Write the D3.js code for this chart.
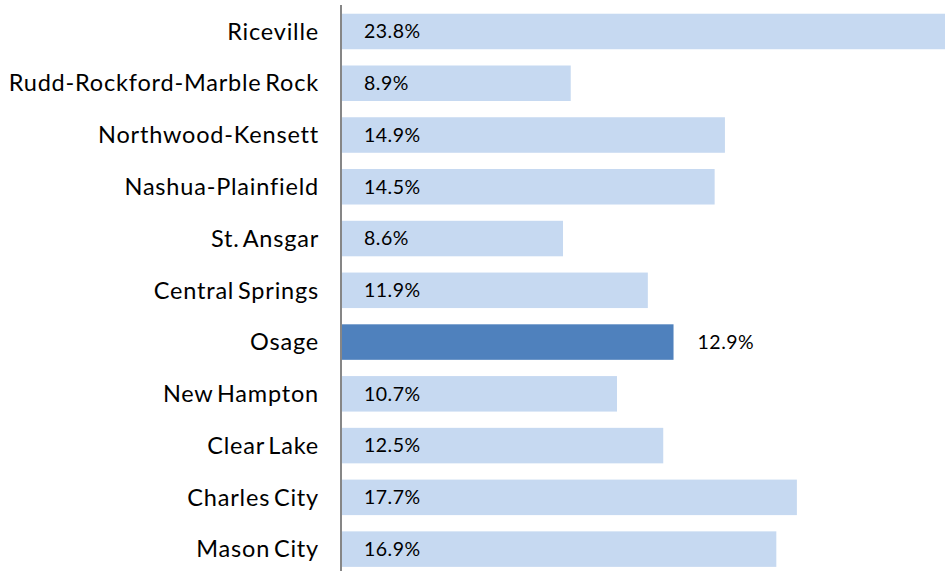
<!DOCTYPE html>
<html><head><meta charset="utf-8">
<script src="https://cdn.jsdelivr.net/npm/d3@7"></script>
<style>body{margin:0;background:#fff}svg{display:block}</style>
</head><body><svg id="c" width="945" height="571"></svg>
<script>
const categories = ["Riceville","Rudd-Rockford-Marble Rock","Northwood-Kensett","Nashua-Plainfield","St. Ansgar","Central Springs","Osage","New Hampton","Clear Lake","Charles City","Mason City"];
const values = [23.8,8.9,14.9,14.5,8.6,11.9,12.9,10.7,12.5,17.7,16.9];
const highlight = "Osage";

const svg = d3.select("#c");
const x0 = 342;
const x = d3.scaleLinear().domain([0, 25]).range([x0, x0 + 25*25.7]);
const y = d3.scaleBand().domain(categories).range([5.6, 575]).paddingInner(0.314).paddingOuter(0.157);
const font = "Lato, 'Open Sans', sans-serif";

svg.selectAll("rect.bar").data(categories).join("rect")
  .attr("class","bar")
  .attr("x", x(0))
  .attr("y", d => y(d))
  .attr("width", (d,i) => x(values[i]) - x(0))
  .attr("height", y.bandwidth())
  .attr("fill", d => d === highlight ? "#4F81BD" : "#C6D9F1");

svg.append("line").attr("x1",341).attr("x2",341).attr("y1",5).attr("y2",571)
  .attr("stroke","#868686").attr("stroke-width",2);

svg.selectAll("text.cat").data(categories).join("text")
  .attr("class","cat")
  .attr("x", 319).attr("y", d => y(d) + y.bandwidth()/2)
  .attr("dy","0.35em").attr("text-anchor","end")
  .attr("font-family", font).attr("font-size", 23.5)
  .attr("letter-spacing", "0.8px").attr("word-spacing", "-3px")
  .attr("fill","#000")
  .text(d => d);

svg.selectAll("text.val").data(categories).join("text")
  .attr("class","val")
  .attr("x", (d,i) => d === highlight ? x(values[i]) + 24 : x(0) + 22)
  .attr("y", d => y(d) + y.bandwidth()/2)
  .attr("dy","0.35em")
  .attr("font-family", font).attr("font-size", 19.5)
  .attr("letter-spacing", "0.5px")
  .attr("fill","#000")
  .text((d,i) => values[i].toFixed(1) + "%");
</script></body></html>
